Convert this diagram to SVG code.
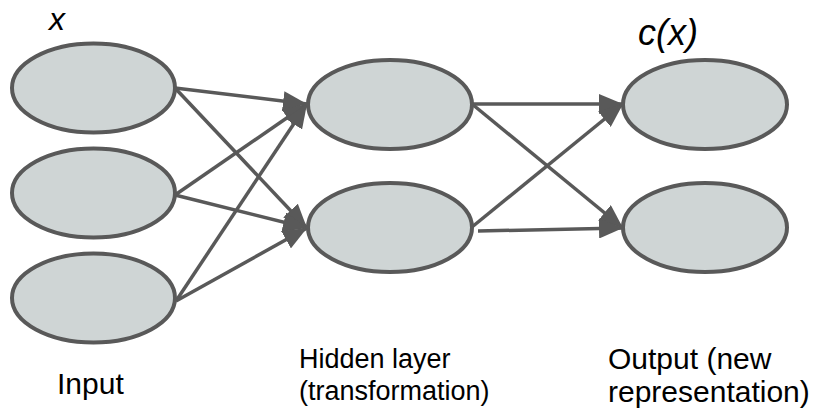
<svg xmlns="http://www.w3.org/2000/svg" width="821" height="413" viewBox="0 0 821 413">
  <style>
    .unit { fill: #cfd5d5; stroke: #595959; stroke-width: 4; }
    .edge { stroke: #595959; stroke-width: 3.5; fill: none; marker-end: url(#head); }
    .label { font-family: "Liberation Sans", Arial, sans-serif; fill: #000; }
    .math { font-family: "Liberation Sans", Arial, sans-serif; font-style: italic; fill: #000; }
  </style>
  <defs>
    <marker id="head" markerUnits="userSpaceOnUse" markerWidth="24" markerHeight="20" viewBox="0 0 24 20" refX="24" refY="10" orient="auto">
      <path d="M0,0 L24,10 L0,20 Z" fill="#595959"/>
    </marker>
  </defs>

  <!-- connectors -->
  <g id="connectors">
    <line class="edge" x1="175" y1="88" x2="307" y2="104"/>
    <line class="edge" x1="175" y1="88" x2="307" y2="228"/>
    <line class="edge" x1="175" y1="195" x2="307" y2="104"/>
    <line class="edge" x1="175" y1="195" x2="307" y2="228"/>
    <line class="edge" x1="176" y1="301" x2="307" y2="104"/>
    <line class="edge" x1="176" y1="301" x2="307" y2="228"/>
    <line class="edge" x1="472" y1="104" x2="623" y2="104"/>
    <line class="edge" x1="472" y1="104" x2="623" y2="228"/>
    <line class="edge" x1="472" y1="227" x2="623" y2="104"/>
    <line class="edge" x1="478" y1="231" x2="623" y2="228"/>
  </g>

  <!-- input layer -->
  <g id="input1"><ellipse class="unit" cx="93.5" cy="88" rx="81.5" ry="44.5"/></g>
  <g id="input2"><ellipse class="unit" cx="93.5" cy="193" rx="81.5" ry="44.5"/></g>
  <g id="input3"><ellipse class="unit" cx="93.5" cy="298" rx="81.5" ry="44.5"/></g>

  <!-- hidden layer -->
  <g id="hidden1"><ellipse class="unit" cx="390" cy="104.5" rx="82" ry="44.5"/></g>
  <g id="hidden2"><ellipse class="unit" cx="390" cy="227.5" rx="82" ry="44.5"/></g>

  <!-- output layer -->
  <g id="output1"><ellipse class="unit" cx="705" cy="104.5" rx="82" ry="44.5"/></g>
  <g id="output2"><ellipse class="unit" cx="705" cy="227.5" rx="82" ry="44.5"/></g>

  <!-- labels -->
  <text class="math" x="49" y="30" font-size="32">x</text>
  <text class="math" x="638" y="45" font-size="36">c(x)</text>
  <text class="label" x="57" y="394" font-size="30">Input</text>
  <text class="label" x="299" y="368" font-size="27">Hidden layer</text>
  <text class="label" x="299" y="400" font-size="27">(transformation)</text>
  <text class="label" x="608" y="369" font-size="30">Output (new</text>
  <text class="label" x="608" y="402" font-size="30">representation)</text>
</svg>
